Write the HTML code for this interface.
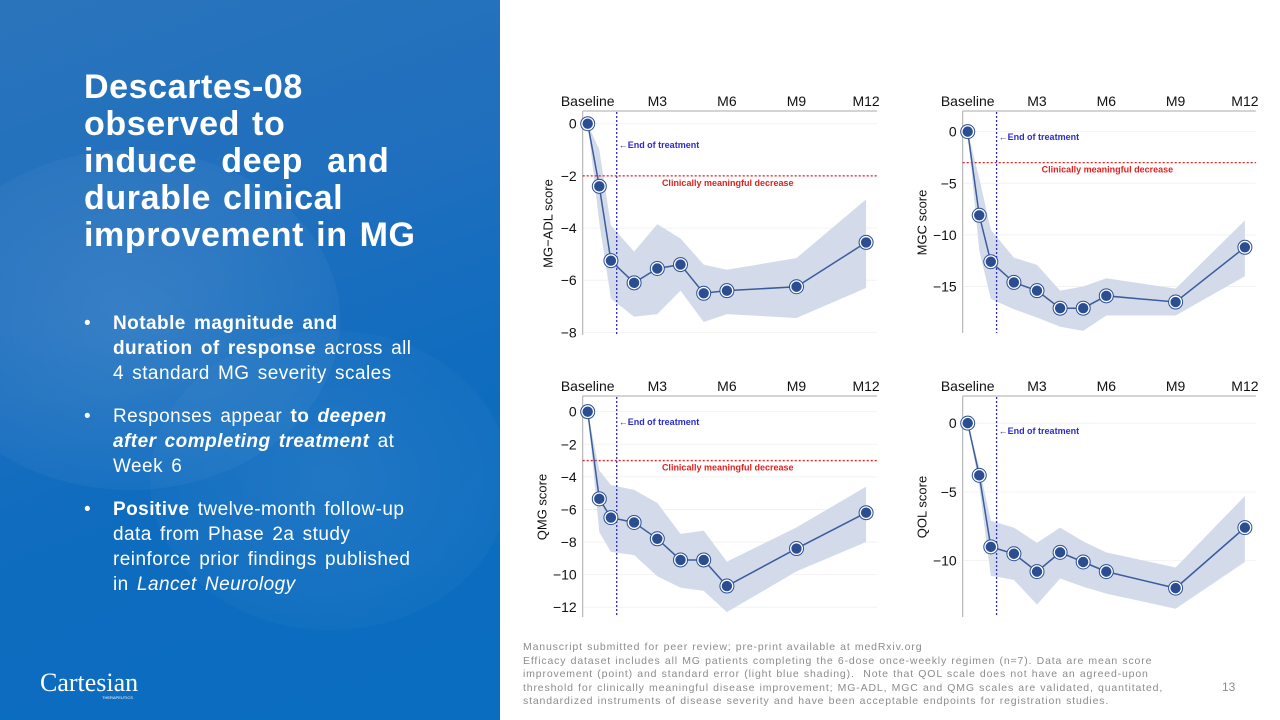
<!DOCTYPE html>
<html><head><meta charset="utf-8">
<style>
*{margin:0;padding:0;box-sizing:border-box}
body{width:1280px;height:720px;overflow:hidden;background:#fff;font-family:"Liberation Sans",sans-serif;position:relative}
#left{position:absolute;left:0;top:0;width:500px;height:720px;background:linear-gradient(160deg,#2a74bb 0%,#1f6fbe 35%,#0f6cbf 60%,#0a6dc0 100%);overflow:hidden}
#left .glow{position:absolute;left:-80px;top:150px;width:420px;height:340px;border-radius:50%;background:radial-gradient(rgba(255,255,255,0.12),rgba(255,255,255,0));}
#left .glow2{position:absolute;left:150px;top:330px;width:360px;height:300px;border-radius:50%;background:radial-gradient(rgba(255,255,255,0.08),rgba(255,255,255,0));}
h1{position:absolute;left:84px;top:69px;color:#fff;font-size:34px;line-height:37px;font-weight:bold;letter-spacing:0.6px;word-spacing:2px}
ul{position:absolute;left:84px;top:311px;width:360px;list-style:none;color:#fff;font-size:19px;line-height:25px;letter-spacing:0.45px;word-spacing:2.5px}
ul li{position:relative;padding-left:29px;margin-bottom:18px}
ul li:before{content:"•";position:absolute;left:0;top:0}
#logo{position:absolute;left:40px;top:668px;color:#fff;font-family:"Liberation Serif",serif;font-size:26px}
#logo small{position:absolute;left:62px;top:27px;font-family:"Liberation Sans",sans-serif;font-size:4px}
#foot{position:absolute;left:523px;top:641px;width:700px;color:#8c8c8c;font-size:10.5px;line-height:13.6px;white-space:nowrap;letter-spacing:0.85px;word-spacing:0.5px}
#pnum{position:absolute;left:1222px;top:680px;color:#8c8c8c;font-size:12px}
svg text{font-family:"Liberation Sans",sans-serif}
</style></head><body>
<div id="left">
<div class="glow"></div><div class="glow2"></div>
<h1>Descartes-08<br>observed to<br>induce&nbsp; deep&nbsp; and<br>durable clinical<br>improvement in MG</h1>
<ul>
<li><b>Notable magnitude and<br>duration of response</b> across all<br>4 standard MG severity scales</li>
<li>Responses appear <b>to <i>deepen<br>after completing treatment</i></b> at<br>Week 6</li>
<li><b>Positive</b> twelve-month follow-up<br>data from Phase 2a study<br>reinforce prior findings published<br>in <i>Lancet Neurology</i></li>
</ul>
<div id="logo">Cartesian<small>THERAPEUTICS</small></div>
</div>
<svg id="charts" width="1280" height="720" style="position:absolute;left:0;top:0"></svg>
<div id="foot">Manuscript submitted for peer review; pre-print available at medRxiv.org<br>Efficacy dataset includes all MG patients completing the 6-dose once-weekly regimen (n=7). Data are mean score<br>improvement (point) and standard error (light blue shading).&nbsp; Note that QOL scale does not have an agreed-upon<br>threshold for clinically meaningful disease improvement; MG-ADL, MGC and QMG scales are validated, quantitated,<br>standardized instruments of disease severity and have been acceptable endpoints for registration studies.</div>
<div id="pnum">13</div>
<script>
const months = [0, 0.5, 1, 2, 3, 4, 5, 6, 9, 12];
const xTickLabels = ["Baseline", "M3", "M6", "M9", "M12"];
const xTickMonths = [0, 3, 6, 9, 12];
const endOfTreatment = 1.25;
const adlMean = [0, -2.4, -5.25, -6.1, -5.55, -5.4, -6.5, -6.4, -6.25, -4.55];
const adlUpper = [0, -1.0, -3.9, -4.9, -3.85, -4.4, -5.4, -5.6, -5.15, -2.9];
const adlLower = [0, -3.8, -6.7, -7.4, -7.3, -6.4, -7.6, -7.3, -7.45, -6.3];
const adlTicks = [0, -2, -4, -6, -8];
const mgcMean = [0, -8.1, -12.6, -14.6, -15.4, -17.1, -17.1, -15.9, -16.5, -11.2];
const mgcUpper = [0, -4.5, -9.5, -12.2, -12.9, -15.4, -15, -14.2, -15.2, -8.6];
const mgcLower = [0, -11.5, -16.2, -17.2, -18.0, -18.9, -19.3, -17.8, -17.8, -14];
const mgcTicks = [0, -5, -10, -15];
const qmgMean = [0, -5.35, -6.5, -6.8, -7.8, -9.1, -9.1, -10.7, -8.4, -6.2];
const qmgUpper = [0, -3.6, -4.5, -4.8, -5.6, -7.5, -7.3, -9.2, -7.1, -4.6];
const qmgLower = [0, -7.4, -8.6, -8.8, -10.1, -10.8, -11.0, -12.3, -9.8, -8.0];
const qmgTicks = [0, -2, -4, -6, -8, -10, -12];
const qolMean = [0, -3.8, -9.0, -9.5, -10.8, -9.4, -10.1, -10.8, -12.0, -7.6];
const qolUpper = [0, -3.2, -7.1, -7.6, -8.7, -7.6, -8.6, -9.4, -10.5, -5.3];
const qolLower = [0, -4.6, -11.1, -11.4, -13.2, -11.3, -11.9, -12.4, -13.5, -10.1];
const qolTicks = [0, -5, -10];

const NS = "http://www.w3.org/2000/svg";
const svg = document.getElementById("charts");
function mk(tag, attrs, parent, txt){
  const e = document.createElementNS(NS, tag);
  for (const k in attrs) e.setAttribute(k, attrs[k]);
  if (txt !== undefined) e.textContent = txt;
  (parent || svg).appendChild(e);
  return e;
}
function chart(cfg){
  const g = mk("g", {});
  
  
  const X = m => cfg.x0 + m * cfg.xs;
  const Y = v => cfg.yTop + (cfg.yMax - v) / (cfg.yMax - cfg.yMin) * (cfg.yBot - cfg.yTop);
  const axL = cfg.x0 - 5, axR = X(12) + 11;
  cfg.ticks.forEach(t => { const gl = mk("line", {x1: axL, x2: axR, y1: Y(t), y2: Y(t), stroke: "#f2f2f2", "stroke-width": 1}, g);
      });
  let pts = months.map((m, i) => X(m) + "," + Y(cfg.upper[i])).join(" ") + " " +
    months.map((m, i) => X(m) + "," + Y(cfg.lower[i])).reverse().join(" ");
  const band = mk("polygon", {points: pts, fill: "#d3dbea"}, g);
   
  const ya = mk("line", {x1: axL, x2: axL, y1: cfg.yTop - 1, y2: cfg.yBot, stroke: "#aaa", "stroke-width": 1}, g);
   
  const xa = mk("line", {x1: axL, x2: axR, y1: cfg.yTop - 1, y2: cfg.yTop - 1, stroke: "#aaa", "stroke-width": 1}, g);
   
  xTickMonths.forEach((m, i) => {
    const t = mk("text", {x: X(m), y: cfg.yTop - 6, "font-size": 14, "text-anchor": "middle", fill: "#111"}, g, xTickLabels[i]);
     
  });
  cfg.ticks.forEach(v => {
    const t = mk("text", {x: axL - 6, y: Y(v) + 5, "font-size": 14, "text-anchor": "end", fill: "#111"}, g, v < 0 ? "\u2212" + (-v) : String(v));
     
  });
  const yt = mk("text", {x: 0, y: 0, "font-size": 13, "text-anchor": "middle", fill: "#111",
    transform: "translate(" + (axL - cfg.titleOff) + "," + ((cfg.yTop + cfg.yBot) / 2) + ") rotate(-90)"}, g, cfg.title);
   
  const ex = X(endOfTreatment);
  const el = mk("line", {x1: ex, x2: ex, y1: cfg.yTop, y2: cfg.yBot, stroke: "#2b2bd0", "stroke-width": 1.3, "stroke-dasharray": "2,2"}, g);
   
  const et = mk("text", {x: ex + 2, y: cfg.eotY, "font-size": 9, "font-weight": "bold", fill: "#2b2bd0"}, g, "\u2190End of treatment");
   
  if (cfg.clin !== null) {
    const cl = mk("line", {x1: axL, x2: axR, y1: Y(cfg.clin), y2: Y(cfg.clin), stroke: "#e02020", "stroke-width": 1.3, "stroke-dasharray": "2,2"}, g);
     
    const ct = mk("text", {x: X(3.2), y: Y(cfg.clin) + 10, "font-size": 9, "font-weight": "bold", fill: "#e02020"}, g, "Clinically meaningful decrease");
     
  }
  const line = mk("polyline", {points: months.map((m, i) => X(m) + "," + Y(cfg.mean[i])).join(" "), fill: "none", stroke: "#3b5c9c", "stroke-width": 1.5}, g);
   
  months.forEach((m, i) => {
    const r = mk("circle", {cx: X(m), cy: Y(cfg.mean[i]), r: 7, fill: "#fff", stroke: "#2b4e93", "stroke-width": 1}, g);
     
    const c = mk("circle", {cx: X(m), cy: Y(cfg.mean[i]), r: 5.2, fill: "#2b4e93"}, g);
     
  });
}
chart({name: "mg-adl-chart", x0: 587.7, xs: 23.2, yTop: 112, yBot: 335, yMax: 0.45, yMin: -8.1, mean: adlMean, upper: adlUpper, lower: adlLower, ticks: adlTicks, title: "MG\u2212ADL score", clin: -2, eotY: 148, titleOff: 30});
chart({name: "mgc-chart", x0: 967.7, xs: 23.1, yTop: 112, yBot: 333, yMax: 1.9, yMin: -19.5, mean: mgcMean, upper: mgcUpper, lower: mgcLower, ticks: mgcTicks, title: "MGC score", clin: -3, eotY: 140, titleOff: 36});
chart({name: "qmg-chart", x0: 587.7, xs: 23.2, yTop: 397, yBot: 617, yMax: 0.9, yMin: -12.6, mean: qmgMean, upper: qmgUpper, lower: qmgLower, ticks: qmgTicks, title: "QMG score", clin: -3, eotY: 425, titleOff: 36});
chart({name: "qol-chart", x0: 967.7, xs: 23.1, yTop: 397, yBot: 617, yMax: 1.9, yMin: -14.1, mean: qolMean, upper: qolUpper, lower: qolLower, ticks: qolTicks, title: "QOL score", clin: null, eotY: 434, titleOff: 36});
</script>
</body></html>
